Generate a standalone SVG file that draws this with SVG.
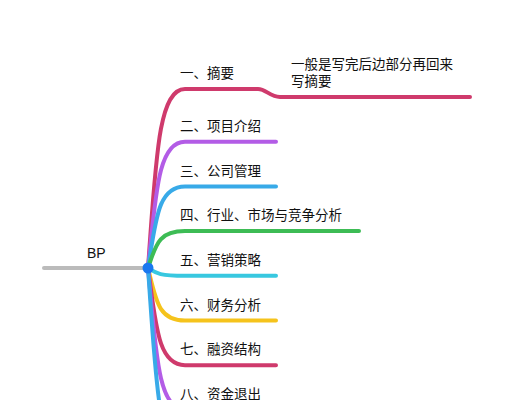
<svg xmlns="http://www.w3.org/2000/svg" width="515" height="400" viewBox="0 0 515 400">
<style>
text{font-family:"Noto Sans CJK SC","Liberation Sans",sans-serif;font-size:13.5px;fill:#111}
.c{fill:none;stroke-width:4;stroke-linecap:round;stroke-linejoin:round}
.m{stroke:#CF3A6C}.p{stroke:#B35CE6}.b{stroke:#38AAE8}.g{stroke:#3DBC55}.cy{stroke:#38C8E0}.y{stroke:#F5C31C}
</style>
<rect width="515" height="400" fill="#fff"/>
<g id="connectors">
<path class="c" d="M44,268 H148" stroke="#BBBBBB"/>
<path class="c m" d="M148,268 C156,160 158,89 185,89 H258 C266,89 270,97 280,97 H470"/>
<path class="c p" d="M148,268 C156,193 158,141.7 185,141.7 H276"/>
<path class="c b" d="M148,268 C156,219 158,186.4 185,186.4 H276"/>
<path class="c g" d="M148,268 C156,245 158,231.1 185,231.1 H359"/>
<path class="c cy" d="M148,268 C156,273 158,275.8 185,275.8 H276"/>
<path class="c y" d="M148,268 C156,300 158,320.5 185,320.5 H276"/>
<path class="c m" d="M148,268 C156,326 158,365.2 185,365.2 H276"/>
<path class="c p" d="M148,268 C156,353 158,409.9 185,409.9 H276"/>
<path class="c b" d="M148,268 C156,380 158,454.6 185,454.6 H276"/>
</g>
<g id="root"><text x="87" y="258" style="font-family:'Liberation Sans',sans-serif;font-size:14px">BP</text><circle cx="148" cy="268" r="5.5" fill="#1A78F0"/></g>
<g id="n1"><text x="180" y="78">一、摘要</text></g>
<g id="note1"><text x="291" y="69"><tspan x="291">一般是写完后边部分再回来</tspan><tspan x="291" dy="16.5">写摘要</tspan></text></g>
<g id="n2"><text x="180" y="131">二、项目介绍</text></g>
<g id="n3"><text x="180" y="175.5">三、公司管理</text></g>
<g id="n4"><text x="180" y="220">四、行业、市场与竞争分析</text></g>
<g id="n5"><text x="180" y="265">五、营销策略</text></g>
<g id="n6"><text x="180" y="309.5">六、财务分析</text></g>
<g id="n7"><text x="180" y="354">七、融资结构</text></g>
<g id="n8"><text x="180" y="399">八、资金退出</text></g>
</svg>
